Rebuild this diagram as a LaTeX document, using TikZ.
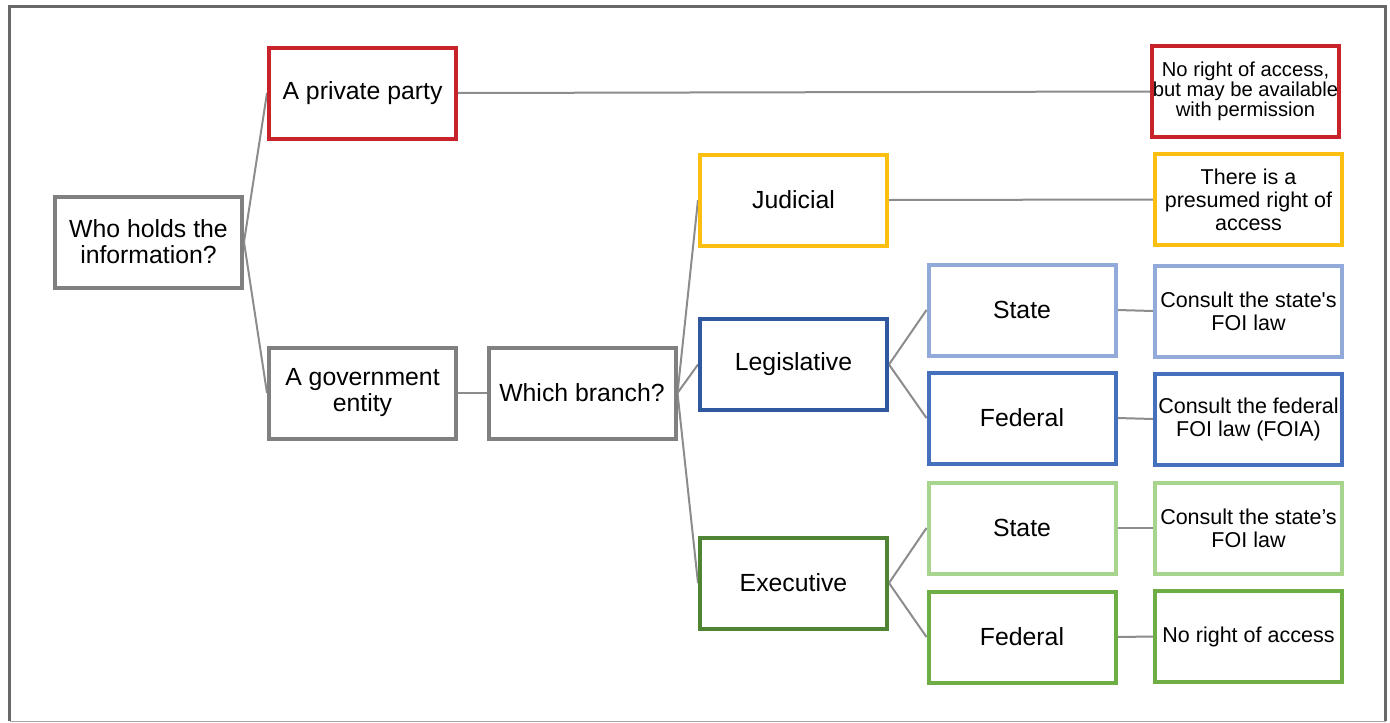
\documentclass[tikz,border=0pt]{standalone}
\usepackage{fontspec}
\setmainfont{Liberation Sans}
\usetikzlibrary{backgrounds}
\definecolor{cred}{HTML}{C8232B}
\definecolor{cyellow}{HTML}{FBBF12}
\definecolor{cdblue}{HTML}{30589E}
\definecolor{clblue}{HTML}{91AADA}
\definecolor{cmblue}{HTML}{4470BD}
\definecolor{cdgreen}{HTML}{4E8434}
\definecolor{clgreen}{HTML}{A8D58E}
\definecolor{cmgreen}{HTML}{6EAE45}
\definecolor{cgray}{HTML}{808080}
\definecolor{cline}{HTML}{8C8C8C}
\definecolor{cframe}{HTML}{686868}
\tikzset{
  box/.style={draw=#1, line width=4pt, fill=white, minimum width=187pt, minimum height=91pt,
    inner sep=0pt, align=center, font=\fontsize{24.8}{26}\selectfont},
  endbox/.style={box=#1, font=\fontsize{21.5}{23}\selectfont},
  tightbox/.style={box=#1, font=\fontsize{20.2}{20}\selectfont},
  conn/.style={draw=cline, line width=2pt}
}
\begin{document}
\begin{tikzpicture}[x=1pt,y=-1pt]
\useasboundingbox (0,0) rectangle (1390,723);
% frame
\draw[cframe, line width=3pt] (9.5,721) -- (9.5,6.5) -- (1385.5,6.5) -- (1385.5,721);
\draw[gray!70, line width=1.2pt] (9.5,721.5) -- (1385.5,721.5);

\node[box=cgray] (who) at (148.5,242) {Who holds the\\information?};
\node[box=cred] (priv) at (362.5,93) {A private party};
\node[box=cgray] (gov) at (362.5,393) {A government\\entity};
\node[box=cgray] (branch) at (582,393) {Which branch?};
\node[box=cyellow] (jud) at (793.5,200) {Judicial};
\node[box=cdblue] (leg) at (793.5,364.5) {Legislative};
\node[box=cdgreen] (exe) at (793.5,583) {Executive};
\node[box=clblue] (lstate) at (1022,310) {State};
\node[box=cmblue] (lfed) at (1022,418) {Federal};
\node[box=clgreen] (estate) at (1022,528) {State};
\node[box=cmgreen] (efed) at (1022,637) {Federal};
\node[tightbox=cred] (rpriv) at (1245.5,91.5) {No right of access,\\but may be available\\with permission};
\node[endbox=cyellow] (rjud) at (1248.5,199.5) {There is a\\presumed right of\\access};
\node[endbox=clblue] (rlstate) at (1248.5,311) {Consult the state\textquotesingle s\\FOI law};
\node[endbox=cmblue] (rlfed) at (1248.5,419) {Consult the federal\\FOI law (FOIA)};
\node[endbox=clgreen] (restate) at (1248.5,528) {Consult the state’s\\FOI law};
\node[endbox=cmgreen] (refed) at (1248.5,636.5) {No right of access};

\begin{scope}[on background layer]
\path[conn] (who.east) -- (priv.west);
\path[conn] (who.east) -- (gov.west);
\path[conn] (priv.east) -- (rpriv.west);
\path[conn] (gov.east) -- (branch.west);
\path[conn] (branch.east) -- (jud.west);
\path[conn] (branch.east) -- (leg.west);
\path[conn] (branch.east) -- (exe.west);
\path[conn] (jud.east) -- (rjud.west);
\path[conn] (leg.east) -- (lstate.west);
\path[conn] (leg.east) -- (lfed.west);
\path[conn] (exe.east) -- (estate.west);
\path[conn] (exe.east) -- (efed.west);
\path[conn] (lstate.east) -- (rlstate.west);
\path[conn] (lfed.east) -- (rlfed.west);
\path[conn] (estate.east) -- (restate.west);
\path[conn] (efed.east) -- (refed.west);
\end{scope}
\end{tikzpicture}
\end{document}
